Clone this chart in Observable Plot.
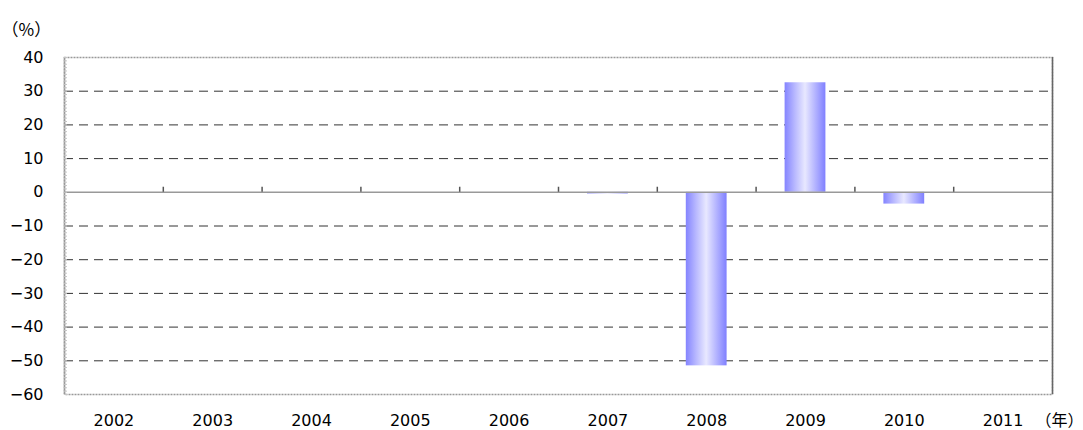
<!DOCTYPE html>
<html><head><meta charset="utf-8">
<script src="https://cdn.jsdelivr.net/npm/d3@7"></script>
<script src="https://cdn.jsdelivr.net/npm/@observablehq/plot@0.6"></script>
<style>body{margin:0;background:#fff;} svg{display:block;}</style>
</head><body><div id="chart"></div>
<script>
const years = ["2002","2003","2004","2005","2006","2007","2008","2009","2010","2011"];
const values = [0, 0, 0, 0, 0, -0.5, -51.5, 32.5, -3.5, 0];
const yTicks = [40,30,20,10,0,-10,-20,-30,-40,-50,-60];
const gridTicks = [30,20,10,-10,-20,-30,-40,-50];
const minorTicks = d3.range(-60, 41, 1);
const data = years.map((y,i)=>({year:y, value:values[i]}));
const W = 1083, H = 430, mL = 64, mR = 31, mT = 57, mB = 36;
const band = (W - mL - mR) / years.length;
const font = "'DejaVu Sans', 'Noto Sans CJK JP', sans-serif";
const cjk = "'Noto Sans CJK JP', sans-serif";

const chart = Plot.plot({
  width: W, height: H,
  marginLeft: mL, marginRight: mR, marginTop: mT, marginBottom: mB,
  style: {fontFamily: font, fontSize: "16px", color: "#000", background: "#fff"},
  x: {domain: years, padding: 0, round: false, axis: null},
  y: {domain: [-60, 40], axis: null},
  marks: [
    Plot.ruleY(gridTicks, {stroke: "#333", strokeWidth: 1, strokeDasharray: "9,6"}),
    Plot.barY(data.filter(d=>d.value!==0), {x: "year", y: "value", fill: "url(#barGrad)", insetLeft: 29, insetRight: 29}),
    Plot.ruleY([0], {stroke: "#999", strokeWidth: 1.5}),
    Plot.ruleX(years.slice(1), {x: d=>d, y1: 0, y2: 1.5, dx: -band/2, stroke: "#555", strokeWidth: 1.5}),
    Plot.frame({stroke: "#999", strokeDasharray: "2,1", strokeWidth: 1.5}),
    Plot.ruleX([years[0]], {x: d=>d, dx: -band/2, y1: -60, y2: 40, stroke: "#999", strokeWidth: 1.5}),
    Plot.ruleX([years[years.length-1]], {x: d=>d, dx: band/2, y1: -60, y2: 40, stroke: "#666", strokeWidth: 1.5}),
    Plot.tickY(minorTicks, {y: d=>d, x: d=>years[0], insetRight: band - 3, stroke: "#c4c4c4", strokeWidth: 1}),
    Plot.text(yTicks, {y: d=>d, frameAnchor: "left", dx: -21, textAnchor: "end", text: d=>String(d).replace("-", "−"), fontSize: 16}),
    Plot.text(years, {x: d=>d, frameAnchor: "bottom", dy: 31, text: d=>d, fontSize: 16}),
    Plot.text(["（%）"], {frameAnchor: "top-left", dx: -63, dy: -34, text: d=>d, textAnchor: "start", fontSize: 17, fontFamily: cjk}),
    Plot.text(["（年）"], {frameAnchor: "bottom-right", dx: 31, dy: 31, text: d=>d, textAnchor: "end", fontSize: 16, fontFamily: cjk})
  ]
});
const ns = "http://www.w3.org/2000/svg";
const defs = document.createElementNS(ns, "defs");
defs.innerHTML = `<linearGradient id="barGrad" x1="0" x2="1" y1="0" y2="0">
  <stop offset="0" stop-color="#8484ff"/>
  <stop offset="0.25" stop-color="#b8b8ff"/>
  <stop offset="0.5" stop-color="#e8e8ff"/>
  <stop offset="0.75" stop-color="#b4b4ff"/>
  <stop offset="1" stop-color="#8080ff"/>
</linearGradient>`;
chart.insertBefore(defs, chart.firstChild);
document.getElementById("chart").appendChild(chart);
</script></body></html>
